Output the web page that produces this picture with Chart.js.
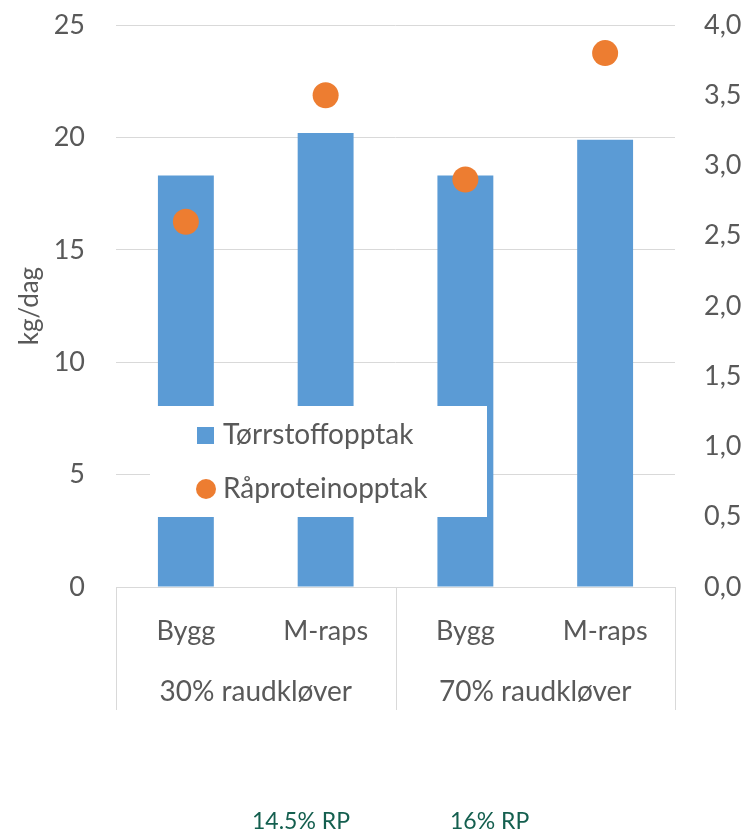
<!DOCTYPE html>
<html>
<head>
<meta charset="utf-8">
<script src="https://cdn.jsdelivr.net/npm/chart.js@4.4.1/dist/chart.umd.min.js"></script>
<style>
  body { margin: 0; background: #fff; }
  #wrap { position: relative; width: 749px; height: 831px; }
  .note { position: absolute; top: 806px; font-family: 'Lato', 'Liberation Sans', sans-serif; font-size: 23px; color: #145f4f; white-space: nowrap; }
</style>
</head>
<body>
<div id="wrap">
  <canvas id="chart" width="749" height="831"></canvas>
  <div class="note" style="left:252px">14.5% RP</div>
  <div class="note" style="left:450px">16% RP</div>
</div>
<script>
// data
const categories = ['Bygg', 'M-raps', 'Bygg', 'M-raps'];
const groups = ['30% raudkløver', '70% raudkløver'];
const dryMatter = [18.3, 20.2, 18.3, 19.9];      // kg/dag, left axis
const crudeProtein = [2.6, 3.5, 2.9, 3.8];       // kg/dag, right axis

const FONT = "'Lato', 'Liberation Sans', sans-serif";
const TEXT = '#595959';
const GRID = '#d9d9d9';

// draws the second level of category labels and the separator lines
const groupAxis = {
    id: 'groupAxis',
    afterDraw(chart) {
        const ctx = chart.ctx;
        const x = chart.scales.x;
        const area = chart.chartArea;
        const per = categories.length / groups.length;
        const bottom = 710;
        ctx.save();
        ctx.strokeStyle = GRID;
        ctx.lineWidth = 1;
        const edges = [area.left];
        for (let g = 1; g < groups.length; g++) {
            edges.push((x.getPixelForTick(g * per - 1) + x.getPixelForTick(g * per)) / 2);
        }
        edges.push(area.right);
        edges.forEach(px => {
            ctx.beginPath();
            ctx.moveTo(Math.round(px) + 0.5, area.bottom);
            ctx.lineTo(Math.round(px) + 0.5, bottom);
            ctx.stroke();
        });
        ctx.fillStyle = TEXT;
        ctx.font = '28px ' + FONT;
        ctx.textAlign = 'center';
        ctx.textBaseline = 'middle';
        groups.forEach((g, i) => {
            ctx.fillText(g, (edges[i] + edges[i + 1]) / 2, 692);
        });
        ctx.restore();
    }
};

// legend box placed inside the plot, over the bars
const innerLegend = {
    id: 'innerLegend',
    afterDraw(chart) {
        const ctx = chart.ctx;
        const sets = chart.data.datasets;
        ctx.save();
        ctx.fillStyle = '#ffffff';
        ctx.fillRect(150, 406, 337, 111);
        ctx.font = '28px ' + FONT;
        ctx.textBaseline = 'middle';
        ctx.textAlign = 'left';
        const rows = [435, 489];
        sets.forEach((ds, i) => {
            const y = rows[i];
            ctx.fillStyle = ds.backgroundColor;
            if (ds.type === 'line') {
                ctx.beginPath();
                ctx.arc(206, y, 10, 0, Math.PI * 2);
                ctx.fill();
            } else {
                ctx.fillRect(197, y - 8, 17, 17);
            }
            ctx.fillStyle = TEXT;
            ctx.fillText(ds.label, 223, y);
        });
        ctx.restore();
    }
};

// keep tick padding from pushing the plot down
function fixVertical(width) {
    return scale => {
        scale.width = width;
        scale.paddingTop = 0;
        scale.paddingBottom = 0;
    };
}

new Chart(document.getElementById('chart'), {
    data: {
        labels: categories,
        datasets: [
            {
                type: 'bar',
                label: 'Tørrstoffopptak',
                data: dryMatter,
                yAxisID: 'y',
                backgroundColor: '#5b9bd5',
                categoryPercentage: 1,
                barPercentage: 0.4,
                order: 1
            },
            {
                type: 'line',
                label: 'Råproteinopptak',
                data: crudeProtein,
                yAxisID: 'y1',
                showLine: false,
                pointRadius: 13,
                pointHoverRadius: 13,
                pointBorderWidth: 0,
                backgroundColor: '#ed7d31',
                borderColor: '#ed7d31',
                order: 0
            }
        ]
    },
    options: {
        responsive: false,
        animation: false,
        layout: { padding: { top: 25, bottom: 0, left: 0, right: 0 } },
        plugins: {
            legend: { display: false },
            tooltip: { enabled: false }
        },
        scales: {
            x: {
                offset: true,
                grid: { display: false, drawTicks: false },
                border: { display: true, color: GRID },
                ticks: { color: TEXT, font: { family: FONT, size: 27 }, padding: 28, maxRotation: 0 },
                afterFit(scale) { scale.height = 244; }
            },
            y: {
                position: 'left',
                min: 0,
                max: 25,
                ticks: { stepSize: 5, color: TEXT, font: { family: FONT, size: 27 }, padding: 31 },
                grid: { color: GRID, drawTicks: false },
                border: { display: false },
                title: {
                    display: true,
                    text: 'kg/dag',
                    color: TEXT,
                    font: { family: FONT, size: 26 },
                    padding: { top: 14, bottom: 0 }
                },
                afterFit: fixVertical(116)
            },
            y1: {
                position: 'right',
                min: 0,
                max: 4,
                ticks: {
                    stepSize: 0.5,
                    color: TEXT,
                    font: { family: FONT, size: 27 },
                    padding: 29,
                    callback: v => v.toFixed(1).replace('.', ',')
                },
                grid: { display: false, drawTicks: false },
                border: { display: false },
                afterFit: fixVertical(74)
            }
        }
    },
    plugins: [groupAxis, innerLegend]
});
</script>
</body>
</html>
